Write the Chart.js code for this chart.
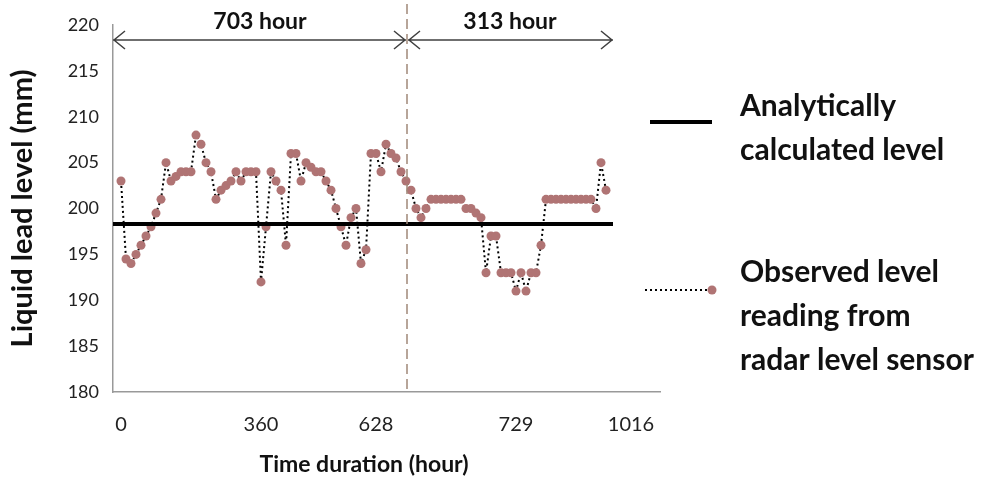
<!DOCTYPE html>
<html>
<head>
<meta charset="utf-8">
<script src="https://cdn.jsdelivr.net/npm/chart.js@4/dist/chart.umd.min.js"></script>
<style>
  html, body { margin: 0; padding: 0; background: #fff; }
  #wrap { width: 990px; height: 484px; }
</style>
</head>
<body>
<div id="wrap"><canvas id="graph" width="990" height="484"></canvas></div>
<script>
// observed readings from the radar sensor, one per sample (mm)
const observed = [
    203, 194.5, 194, 195, 196, 197, 198, 199.5, 201, 205,
    203, 203.5, 204, 204, 204, 208, 207, 205, 204, 201,
    202, 202.5, 203, 204, 203, 204, 204, 204, 192, 198,
    204, 203, 202, 196, 206, 206, 203, 205, 204.5, 204,
    204, 203, 202, 200, 198, 196, 199, 200, 194, 195.5,
    206, 206, 204, 207, 206, 205.5, 204, 203, 202, 200,
    199, 200, 201, 201, 201, 201, 201, 201, 201, 200,
    200, 199.5, 199, 193, 197, 197, 193, 193, 193, 191,
    193, 191, 193, 193, 196, 201, 201, 201, 201, 201,
    201, 201, 201, 201, 201, 200, 205, 202
];
const ANALYTIC = 198.3; // analytically calculated level (mm)

// sample index positions for the x tick labels
const tickPos = [0, 28, 51, 79, 102];
const tickLabels = ['0', '360', '628', '729', '1016'];

// periods shown at the top (in sample index units)
const START = -1.6;
const SPLIT = 57.2;
const END = 98.4;
const periodLabels = ['703 hour', '313 hour'];

const FONT = 'Lato, "Open Sans", sans-serif';
const POINT_COLOR = '#b07474';

const annotations = {
    id: 'annotations',
    afterDraw(chart) {
        const ctx = chart.ctx;
        const x = chart.scales.x;
        const area = chart.chartArea;
        const xs = x.getPixelForValue(START);
        const xm = x.getPixelForValue(SPLIT);
        const xe = x.getPixelForValue(END);
        ctx.save();

        // dashed divider
        ctx.strokeStyle = '#a08878';
        ctx.lineWidth = 1.5;
        ctx.setLineDash([10, 5]);
        ctx.beginPath();
        ctx.moveTo(xm, 4);
        ctx.lineTo(xm, area.bottom);
        ctx.stroke();
        ctx.setLineDash([]);

        // double headed arrows
        const ay = 40;
        ctx.strokeStyle = '#404040';
        ctx.lineWidth = 1.5;
        function arrow(a, b) {
            ctx.beginPath();
            ctx.moveTo(a, ay);
            ctx.lineTo(b, ay);
            ctx.moveTo(a + 12, ay - 9);
            ctx.lineTo(a + 1, ay);
            ctx.lineTo(a + 12, ay + 9);
            ctx.moveTo(b - 12, ay - 9);
            ctx.lineTo(b - 1, ay);
            ctx.lineTo(b - 12, ay + 9);
            ctx.stroke();
        }
        arrow(xs, xm - 1);
        arrow(xm + 1, xe);

        ctx.fillStyle = '#111';
        ctx.font = 'bold 23px ' + FONT;
        ctx.textAlign = 'center';
        ctx.textBaseline = 'middle';
        ctx.fillText(periodLabels[0], (xs + xm) / 2, 22);
        ctx.fillText(periodLabels[1], (xm + xe) / 2, 22);

        // x axis title
        ctx.fillText('Time duration (hour)', 364, 465);

        // legend
        const ds = chart.data.datasets;
        ctx.textAlign = 'left';
        ctx.font = 'bold 30px ' + FONT;
        ctx.strokeStyle = ds[0].borderColor;
        ctx.lineWidth = ds[0].borderWidth;
        ctx.beginPath();
        ctx.moveTo(650, 122);
        ctx.lineTo(712, 122);
        ctx.stroke();
        ctx.fillText('Analytically', 740, 106);
        ctx.fillText('calculated level', 740, 150);

        ctx.strokeStyle = ds[1].borderColor;
        ctx.lineWidth = ds[1].borderWidth;
        ctx.setLineDash(ds[1].borderDash);
        ctx.beginPath();
        ctx.moveTo(645, 290);
        ctx.lineTo(712, 290);
        ctx.stroke();
        ctx.setLineDash([]);
        ctx.fillStyle = POINT_COLOR;
        ctx.beginPath();
        ctx.arc(712, 290, 4.5, 0, Math.PI * 2);
        ctx.fill();
        ctx.fillStyle = '#111';
        ctx.fillText('Observed level', 740, 272);
        ctx.fillText('reading from', 740, 316);
        ctx.fillText('radar level sensor', 740, 360);

        ctx.restore();
    }
};

const data = {
    datasets: [
        {
            label: 'Analytically calculated level',
            data: [{x: START, y: ANALYTIC}, {x: END, y: ANALYTIC}],
            borderColor: '#000',
            borderWidth: 4,
            pointRadius: 0,
        },
        {
            label: 'Observed level reading from radar level sensor',
            data: observed.map((v, i) => ({x: i, y: v})),
            borderColor: '#000',
            borderWidth: 2,
            borderDash: [2, 3],
            pointRadius: 4.5,
            pointBorderWidth: 0,
            pointBackgroundColor: POINT_COLOR,
        },
    ]
};

const config = {
    type: 'line',
    data: data,
    options: {
        responsive: false,
        animation: false,
        events: [],
        layout: {
            padding: {top: 25, right: 330, left: 0, bottom: 0}
        },
        scales: {
            x: {
                type: 'linear',
                min: START,
                max: 107.8,
                grid: {display: false},
                border: {display: true, color: '#999', width: 1.5},
                afterBuildTicks: (scale) => {
                    scale.ticks = tickPos.map(v => ({value: v}));
                },
                afterFit: (scale) => { scale.height = 92; },
                ticks: {
                    autoSkip: false,
                    maxRotation: 0,
                    padding: 13,
                    color: '#222',
                    font: {family: FONT, size: 20},
                    callback: (value) => tickLabels[tickPos.indexOf(value)],
                },
            },
            y: {
                min: 180,
                max: 220,
                grid: {display: false},
                border: {display: true, color: '#999', width: 1.5},
                afterFit: (scale) => { scale.width = 113; },
                ticks: {
                    stepSize: 5,
                    padding: 6,
                    color: '#222',
                    font: {family: FONT, size: 18},
                },
                title: {
                    display: true,
                    text: 'Liquid lead level (mm)',
                    color: '#111',
                    padding: {top: 5},
                    font: {family: FONT, size: 29, weight: 'bold'},
                },
            }
        },
        plugins: {
            legend: {display: false},
            tooltip: {enabled: false},
        }
    },
    plugins: [annotations],
};

const chart = new Chart(document.getElementById('graph'), config);
</script>
</body>
</html>
